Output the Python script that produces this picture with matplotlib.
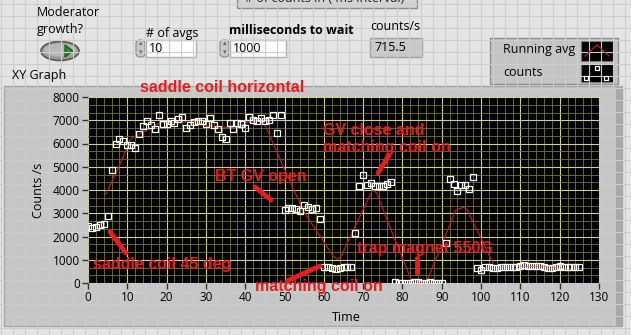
import numpy as np
import matplotlib
matplotlib.use("Agg")
import matplotlib.pyplot as plt
from matplotlib.patches import Rectangle, FancyBboxPatch, Ellipse, Polygon
from matplotlib.ticker import MultipleLocator, AutoMinorLocator

plt.rcParams['font.family'] = ['Open Sans', 'DejaVu Sans']

# data (one point per second)
time = list(range(126))
counts = [2465, 2365, 2410, 2480, 2520, 2870, 4850, 5965, 6180, 6120,
          5950, 5950, 5790, 6400, 6740, 6955, 6780, 6610, 7210, 6850,
          6850, 6980, 6900, 7070, 7140, 6650, 6800, 6930, 6970, 6950,
          6850, 7090, 6795, 6610, 6280, 6180, 6870, 6610, 6895, 6830,
          6665, 7150, 7010, 6970, 7100, 6970, 7010, 7210, 6440, 7210,
          3140, 3210, 3225, 3170, 3085, 3340, 3280, 3170, 3210, 2740,
          690, 690, 660, 600, 660, 675, 675, 700, 2150, 4160,
          4630, 4200, 4290, 4160, 4170, 4170, 4245, 4330, 30, 0,
          0, 0, 0, 30, 30, 0, 0, 30, 0, 0,
          0, 1700, 4460, 4245, 3945, 4200, 4200, 4040, 4545, 640,
          580, 690, 700, 660, 660, 670, 670, 690, 700, 700,
          720, 790, 740, 730, 740, 710, 700, 650, 650, 700,
          710, 670, 670, 670, 680, 700]
n_avgs = 10

# running average, plotted at the mean time of each window
kernel = np.ones(n_avgs) / n_avgs
avg_t = np.convolve(time, kernel, mode='valid')
avg_c = np.convolve(counts, kernel, mode='valid')

notes = [
    ("saddle coil horizontal", 140, 88),
    ("BT GV open", 215, 176),
    ("GV close and\nmatching coil on", 323, 139),
    ("trap magnet 550G", 357, 249),
    ("saddle coil 45 deg", 93, 265),
    ("matching coil on", 255, 286),
]
pointers = [
    ((110, 232), (126, 253)),
    ((255, 187), (271, 200)),
    ((389, 155), (378, 173)),
    ((417, 258), (417, 273)),
    ((287, 281), (320, 266)),
]

W, H = 631, 335
fig = plt.figure(figsize=(W / 100, H / 100), dpi=100)
fig.patch.set_facecolor('#e4e4e4')

# front panel background (pixel coordinates, y down)
bg = fig.add_axes([0, 0, 1, 1])
bg.set_xlim(0, W)
bg.set_ylim(H, 0)
bg.axis('off')
for gx in range(1, W, 12):
    bg.plot([gx, gx], [0, H], color='#cdcdcd', lw=0.8)
for gy in range(4, H, 12):
    bg.plot([0, W], [gy, gy], color='#cdcdcd', lw=0.8)

# partially visible indicator at the very top
bg.add_patch(Rectangle((237, -4), 180, 12, facecolor='#d4d4d4', edgecolor='#8c8c8c', lw=1))
bg.text(245, -2, "# of counts in ( ms interval)", fontsize=9, va='center', color='#222222')

# moderator growth button
bg.text(37, 12, "Moderator", fontsize=9, va='center')
bg.text(37, 29, "growth?", fontsize=9, va='center')
bg.add_patch(Ellipse((60, 51), 38, 19, facecolor='#9c9c9c', edgecolor='#555555', lw=1.2))
bg.add_patch(Ellipse((60, 50), 32, 13, facecolor='#b8b8b8', edgecolor='none'))
bg.add_patch(Polygon([[65, 45], [65, 57], [73, 51]], closed=True, facecolor='#2f8a2f', edgecolor='#1c5c1c'))

# numeric controls
def numeric(x0, x1, label, value, bold=False, lx=None, ly=32):
    bg.text(lx if lx is not None else x0 + 12, ly, label, fontsize=9, va='center',
            fontweight='bold' if bold else 'normal')
    bg.add_patch(FancyBboxPatch((x0, 40), 9, 17, boxstyle='round,pad=0,rounding_size=4',
                                facecolor='#c8c8c8', edgecolor='#8a8a8a', lw=0.8))
    bg.text(x0 + 4.5, 44, u"\u25b4", fontsize=5, ha='center', va='center', color='#666666')
    bg.text(x0 + 4.5, 53, u"\u25be", fontsize=5, ha='center', va='center', color='#666666')
    bg.add_patch(Rectangle((x0 + 10, 40), x1 - x0 - 10, 17, facecolor='white', edgecolor='#b0b0b0', lw=1))
    bg.text(x0 + 13, 48.5, value, fontsize=9, va='center')

numeric(136, 196, "# of avgs", "10", lx=146, ly=33)
numeric(220, 286, "milliseconds to wait", "1000", bold=True, lx=229, ly=31)

# counts/s indicator
bg.text(370, 27, "counts/s", fontsize=9, va='center')
bg.add_patch(Rectangle((370, 38), 52, 19, facecolor='#c9c9c9', edgecolor='#a0a0a0', lw=1))
bg.text(374, 47.5, "715.5", fontsize=9, va='center')

# plot legend
bg.add_patch(Rectangle((490, 38), 128, 46, facecolor='#c4c4c4', edgecolor='#8e8e8e', lw=1))
bg.text(503, 49, "Running avg", fontsize=9, va='center')
bg.text(503, 73, "counts", fontsize=9, va='center')
bg.add_patch(Rectangle((581, 41), 32, 20, facecolor='black', edgecolor='#777777', lw=0.8))
bg.plot([585, 597, 609], [56, 45, 56], color='#b22222', lw=0.9)
bg.add_patch(Rectangle((581, 64), 32, 18, facecolor='black', edgecolor='#777777', lw=0.8))
bg.plot([597, 606, 586], [68, 78, 78], 's', ms=3.5, mfc='none', mec='white', mew=0.9)

# graph frame
bg.text(12, 76, "XY Graph", fontsize=9, va='center')
bg.add_patch(Rectangle((4, 86), 618, 240, facecolor='#c6c6c6', edgecolor='#a4a4a4', lw=1))
bg.add_patch(Rectangle((616, 86), 6, 240, facecolor='#a9a9a9', edgecolor='none'))

# the XY graph itself
ax = fig.add_axes([88 / W, 1 - 283 / H, (599 - 88) / W, (283 - 97) / H])
ax.set_facecolor('black')
ax.plot(avg_t, avg_c, color='#b22222', lw=0.9, zorder=3)
ax.plot(time, counts, 's', ms=4.3, mfc='none', mec='white', mew=0.9, zorder=4)
ax.set_xlim(0, 130)
ax.set_ylim(0, 8000)
ax.xaxis.set_major_locator(MultipleLocator(10))
ax.yaxis.set_major_locator(MultipleLocator(1000))
ax.xaxis.set_minor_locator(AutoMinorLocator(5))
ax.yaxis.set_minor_locator(AutoMinorLocator(3))
ax.grid(which='minor', color='#74743f', lw=0.6)
ax.grid(which='major', color='#cfcf9c', lw=0.8)
ax.set_axisbelow(True)
ax.tick_params(which='major', direction='out', length=4, width=1, color='#333333',
               labelsize=8.5, pad=2)
ax.tick_params(which='minor', length=0)
for s in ax.spines.values():
    s.set_visible(False)
ax.set_xlabel("Time", fontsize=9)
ax.set_ylabel("Counts /s", fontsize=9)
ax.xaxis.set_label_coords(0.505, -0.15)
ax.yaxis.set_label_coords(-0.085, 0.5)

# red hand-written annotations on top
ov = fig.add_axes([0, 0, 1, 1], zorder=5)
ov.set_xlim(0, W)
ov.set_ylim(H, 0)
ov.axis('off')
ov.patch.set_alpha(0)
for txt, x, y in notes:
    ov.text(x, y, txt, fontsize=11.5, fontweight='bold', color='#e3201f', va='center',
            family=['Liberation Sans', 'DejaVu Sans'], linespacing=1.15)
for (x0, y0), (x1, y1) in pointers:
    ov.plot([x0, x1], [y0, y1], color='#e3201f', lw=3.5, solid_capstyle='round')

fig.savefig("out.png", dpi=100, facecolor=fig.get_facecolor())
